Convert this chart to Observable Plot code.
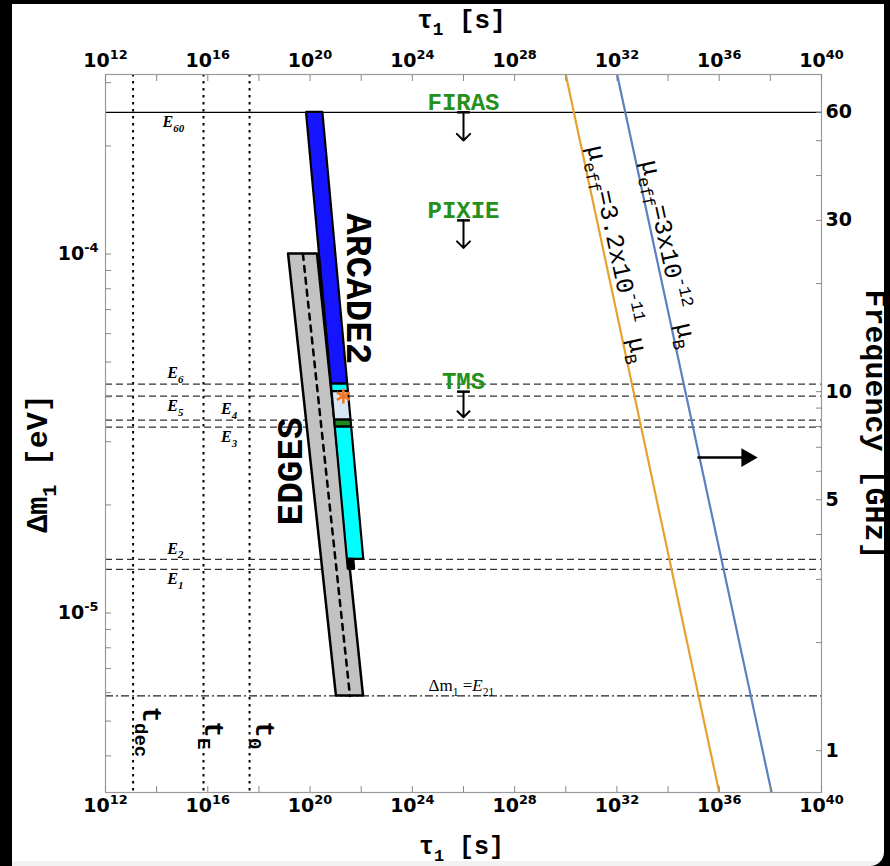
<!DOCTYPE html>
<html><head><meta charset="utf-8">
<script src="https://cdn.jsdelivr.net/npm/d3@7"></script>
<script src="https://cdn.jsdelivr.net/npm/@observablehq/plot@0.6"></script>
<style>
html,body{margin:0;padding:0;background:#000;width:890px;height:866px;overflow:hidden}
#page{position:absolute;left:12px;top:4px;width:872px;height:862px;background:linear-gradient(#fff 0,#fff 857px,#f1f1f1 857px);border-bottom-right-radius:14px}
#chart{position:absolute;left:0;top:0}
</style></head>
<body><div id="page"></div><div id="chart"></div>
<script>
// ---------- data ----------
const H_EV_PER_GHZ = 4.135667e-6;              // photon energy of 1 GHz, eV
const xMajorTicks = [1e12, 1e16, 1e20, 1e24, 1e28, 1e32, 1e36, 1e40];
const xMinorTicks = [1e14, 1e18, 1e22, 1e26, 1e30, 1e34, 1e38];
const yMajorTicks = [1e-5, 1e-4];
const yMinorTicks = [4e-6, 5e-6, 6e-6, 7e-6, 8e-6, 9e-6, 2e-5, 3e-5, 4e-5, 5e-5, 6e-5, 7e-5, 8e-5, 9e-5, 2e-4, 3e-4];
const freqMajorTicks = [1, 5, 10, 30, 60];
const freqMinorTicks = [2, 3, 4, 6, 7, 8, 9, 20, 40, 50];

// ARCADE2 frequency levels (GHz)
const levelNames = ["E_{60}", "E_{6}", "E_{5}", "E_{4}", "E_{3}", "E_{2}", "E_{1}"];
const levelGHz = [60, 10.49, 9.72, 8.33, 7.97, 3.41, 3.20];
const levelLabelTau = [1.7e14, 2.6e14, 2.6e14, 3.3e16, 3.3e16, 2.6e14, 2.6e14];
const line21GHz = 1.4204;
const line21Label = "Δm_{1} =*{E}_{21}";
const line21LabelTau = 4.3e24;

// epochs
const epochNames = ["t_{dec}", "t_{E}", "t_{0}"];
const epochTau = [1.2e13, 6.8e15, 4.3e17];
const epochLabelTau = [6.3e13, 1.8e16, 1.8e18];
const epochLabelDm = [5.5e-6, 5.0e-6, 5.0e-6];

// ARCADE2 band segments (top/bottom frequency, edge lifetimes in s)
const arcadeTopGHz    = [60, 10.49, 10.0, 8.33, 7.97, 3.41];
const arcadeBottomGHz = [10.49, 10.0, 8.33, 7.97, 3.41, 3.20];
const arcadeTauLeftTop     = [7.24e19, 6.81e20, 7.24e20, 9.16e20, 9.68e20, 2.88e21];
const arcadeTauRightTop    = [3.16e20, 2.97e21, 3.16e21, 4.00e21, 4.23e21, 5.13e21];
const arcadeTauLeftBottom  = [6.81e20, 7.24e20, 9.16e20, 9.68e20, 2.88e21, 3.13e21];
const arcadeTauRightBottom = [2.97e21, 3.16e21, 4.00e21, 4.23e21, 1.26e22, 5.56e21];
const arcadeStarTau = 2.0e21, arcadeStarGHz = 9.72;
const arcadeLabel = "ARCADE2", arcadeLabelTau = 7.8e21, arcadeLabelDm = 8.0e-5;

// EDGES band
const edgesDm = [1e-4, 5.874e-6];
const edgesTauLeft = [1.44e19, 1.07e21];
const edgesTauRight = [1.95e20, 1.23e22];
const edgesTauCenter = [5.25e19, 3.63e21];
const edgesLabel = "EDGES", edgesLabelTau = 1.72e19, edgesLabelDm = 2.48e-5;

// upper limits
const limitNames = ["FIRAS", "PIXIE", "TMS"];
const limitGHz = [60, 30, 10];
const limitTipDm = [2.07e-4, 1.04e-4, 3.51e-5];
const limitTau = [1e26, 1e26, 1e26];
const limitBarTauLeft = [5.6e25, 5.6e25, 5.6e25];
const limitBarTauRight = [1.78e26, 1.78e26, 1.78e26];

// effective magnetic moment lines
const muNames = ["μ_{eff}=3.2x10^{-11} μ_{B}", "μ_{eff}=3x10^{-12} μ_{B}"];
const muEndDm = [3.162e-4, 3.162e-6];
const muTauOrange = [1.0e30, 1.0e36];
const muTauBlue = [1.02e32, 1.12e38];
const muLabelTau = [1.1e32, 1.1e34];
const muLabelDm = [1.0e-4, 1.0e-4];

// right arrow
const arrowTau = [1.4e35, 1.2e37];
const arrowDm = 2.71e-5;

// ---------- build ----------
const dmOf = ghz => ghz * H_EV_PER_GHZ;
const levels = levelNames.map((n, i) => ({name: "*{E}" + n.slice(1), ghz: levelGHz[i], tau: levelLabelTau[i]}));
const above = new Set([1, 3, 5]);
const MONO = "Liberation Mono", SANS = "DejaVu Sans", SERIF = "Liberation Serif";
const GREEN = "#25901c";

const arcadeFills = ["#1414ff", "#00ffff", "#d9e6f5", "#1e8c1e", "#00ffff", "#000000"];
const arcadeMarks = arcadeTopGHz.map((t, i) => Plot.areaX([
  {dm: dmOf(t), x1: arcadeTauLeftTop[i], x2: arcadeTauRightTop[i]},
  {dm: dmOf(arcadeBottomGHz[i]), x1: arcadeTauLeftBottom[i], x2: arcadeTauRightBottom[i]}
], {y: "dm", x1: "x1", x2: "x2", fill: arcadeFills[i], stroke: "#000", strokeWidth: 2.2, strokeLinejoin: "miter"}));

const edgesRows = edgesDm.map((d, i) => ({dm: d, x1: edgesTauLeft[i], x2: edgesTauRight[i], xc: edgesTauCenter[i]}));
const muRows = (taus) => taus.map((t, i) => ({tau: t, dm: muEndDm[i]}));
const limits = limitNames.map((n, i) => ({name: n, dm: dmOf(limitGHz[i]), tip: limitTipDm[i], tau: limitTau[i], l: limitBarTauLeft[i], r: limitBarTauRight[i]}));
const epochs = epochNames.map((n, i) => ({name: n, tau: epochTau[i], lt: epochLabelTau[i], ld: epochLabelDm[i]}));
const pow10 = d => "10^{" + Math.round(Math.log10(d)) + "}";
const tickFont = {fontFamily: SANS, fontWeight: "bold", fontSize: 19};
const blank = () => "";
const titleFont = {fontFamily: MONO, fontWeight: "bold", textAnchor: "middle", lineAnchor: "middle"};

const plot = Plot.plot({
  width: 890, height: 866,
  marginLeft: 105, marginRight: 69, marginTop: 74, marginBottom: 74,
  style: {background: "transparent", fontFamily: SANS, overflow: "visible"},
  x: {type: "log", domain: [1e12, 1e40]},
  y: {type: "log", domain: [Math.pow(10, -5.5), Math.pow(10, -3.5)]},
  marks: [
    Plot.ruleX(epochs, {x: "tau", stroke: "#000", strokeWidth: 2, strokeDasharray: "2.5,4.5"}),
    Plot.ruleY(levels.slice(1), {y: d => dmOf(d.ghz), stroke: "#333", strokeWidth: 1.3, strokeDasharray: "7,4"}),
    Plot.ruleY(levels.slice(0, 1), {y: d => dmOf(d.ghz), stroke: "#000", strokeWidth: 1.3}),
    Plot.ruleY([line21GHz], {y: d => dmOf(d), stroke: "#222", strokeWidth: 1.3, strokeDasharray: "8,3,2,3"}),
    Plot.line(muRows(muTauOrange), {x: "tau", y: "dm", stroke: "#e8a130", strokeWidth: 2.2, clip: true}),
    Plot.line(muRows(muTauBlue), {x: "tau", y: "dm", stroke: "#5a80c0", strokeWidth: 2.2, clip: true}),
    Plot.areaX(edgesRows, {y: "dm", x1: "x1", x2: "x2", fill: "#c2c2c2", stroke: "#000", strokeWidth: 2.5}),
    Plot.line(edgesRows, {x: "xc", y: "dm", stroke: "#000", strokeWidth: 2.5, strokeDasharray: "6,6"}),
    ...arcadeMarks,
    Plot.dot([arcadeStarTau], {x: d => d, y: () => dmOf(arcadeStarGHz), symbol: "asterisk", r: 7, stroke: "#f07820", strokeWidth: 2.6}),
    Plot.arrow(limits, {x1: "tau", x2: "tau", y1: "dm", y2: "tip", stroke: "#000", strokeWidth: 2, headLength: 9, headAngle: 90}),
    Plot.link(limits, {x1: "l", x2: "r", y1: "dm", y2: "dm", stroke: "#000", strokeWidth: 2.5}),
    Plot.link([arrowTau], {x1: d => d[0], x2: d => d[1], y1: () => arrowDm, y2: () => arrowDm, stroke: "#000", strokeWidth: 2.5}),
    Plot.dot([arrowTau], {x: d => d[1], y: () => arrowDm, symbol: "triangle", rotate: 90, r: 7, fill: "#000", stroke: "none"}),
    // texts
    Plot.text(limits, {x: "tau", y: "dm", text: "name", dy: -10, fill: GREEN, fontFamily: MONO, fontWeight: "bold", fontSize: 24}),
    Plot.text(levels.filter((d, i) => above.has(i)), {x: "tau", y: d => dmOf(d.ghz), text: "name", dy: -11, textAnchor: "start", fontFamily: SERIF, fontStyle: "italic", fontWeight: "bold", fontSize: 16}),
    Plot.text(levels.filter((d, i) => !above.has(i)), {x: "tau", y: d => dmOf(d.ghz), text: "name", dy: 10, textAnchor: "start", fontFamily: SERIF, fontStyle: "italic", fontWeight: "bold", fontSize: 16}),
    Plot.text([line21Label], {x: () => line21LabelTau, y: () => dmOf(line21GHz), dy: -10, textAnchor: "start", fontFamily: SERIF, fontSize: 17}),
    Plot.text(epochs, {x: "lt", y: "ld", text: "name", rotate: 90, textAnchor: "start", fontFamily: MONO, fontWeight: "bold", fontSize: 28}),
    Plot.text([arcadeLabel], {x: () => arcadeLabelTau, y: () => arcadeLabelDm, rotate: 90, fontFamily: MONO, fontWeight: "bold", fontSize: 36}),
    Plot.text([edgesLabel], {x: () => edgesLabelTau, y: () => edgesLabelDm, rotate: -90, fontFamily: MONO, fontWeight: "bold", fontSize: 36}),
    Plot.text(muNames, {x: (d, i) => muLabelTau[i], y: (d, i) => muLabelDm[i], rotate: 78, fontFamily: MONO, fontSize: 25}),
    // axis titles
    Plot.text(["τ_{1} [s]"], {frameAnchor: "top", dx: -2, dy: -55, fontSize: 26, ...titleFont}),
    Plot.text(["τ_{1} [s]"], {frameAnchor: "bottom", dx: -2, dy: 53, fontSize: 25, ...titleFont}),
    Plot.text(["Δm_{1} [eV]"], {frameAnchor: "left", dx: -68, dy: 30, rotate: -90, fontSize: 30, ...titleFont}),
    Plot.text(["Frequency [GHz]"], {frameAnchor: "right", dx: 54, dy: -9, rotate: 90, fontSize: 30, ...titleFont}),
    Plot.frame({stroke: "#9a9a9a", strokeWidth: 1.2}),
    // axes with inward ticks
    Plot.axisX({anchor: "bottom", ticks: xMajorTicks, tickSize: -6, tickPadding: 12, tickFormat: pow10, label: null, stroke: "#888", ...tickFont}),
    Plot.axisX({anchor: "bottom", ticks: xMinorTicks, tickSize: -6, tickFormat: blank, label: null, stroke: "#888"}),
    Plot.axisX({anchor: "top", ticks: xMajorTicks, tickSize: -6, tickPadding: 14, tickFormat: pow10, label: null, stroke: "#888", ...tickFont}),
    Plot.axisX({anchor: "top", ticks: xMinorTicks, tickSize: -6, tickFormat: blank, label: null, stroke: "#888"}),
    Plot.axisY({anchor: "left", ticks: yMajorTicks, tickSize: -6, tickPadding: 13, tickFormat: pow10, label: null, stroke: "#888", ...tickFont}),
    Plot.axisY({anchor: "left", ticks: yMinorTicks, tickSize: -6, tickFormat: blank, label: null, stroke: "#888"}),
    Plot.axisY({anchor: "right", ticks: freqMajorTicks.map(dmOf), tickSize: -6, tickPadding: 10, tickFormat: d => String(Math.round(d / H_EV_PER_GHZ)), label: null, stroke: "#888", ...tickFont}),
    Plot.axisY({anchor: "right", ticks: freqMinorTicks.map(dmOf), tickSize: -6, tickFormat: blank, label: null, stroke: "#888"})
  ]
});
document.getElementById("chart").appendChild(plot);

// rich text: _{sub} ^{sup} *{italic}
d3.select(plot).selectAll("text").each(function () {
  const s = this.textContent;
  if (!/[_^*]\{/.test(s)) return;
  const fs = parseFloat(getComputedStyle(this).fontSize) || 12;
  const parts = [], re = /([_^*])\{([^}]*)\}/g;
  let last = 0, m;
  while ((m = re.exec(s))) {
    if (m.index > last) parts.push({t: s.slice(last, m.index), k: ""});
    parts.push({t: m[2], k: m[1]});
    last = re.lastIndex;
  }
  if (last < s.length) parts.push({t: s.slice(last), k: ""});
  while (this.firstChild) this.removeChild(this.firstChild);
  let cur = 0;
  parts.forEach((p) => {
    const ts = document.createElementNS("http://www.w3.org/2000/svg", "tspan");
    const target = p.k === "_" ? 0.28 * fs : p.k === "^" ? -0.42 * fs : 0;
    if (target !== cur) ts.setAttribute("dy", (target - cur).toFixed(2));
    cur = target;
    if (p.k === "_" || p.k === "^") ts.setAttribute("font-size", (0.68 * fs).toFixed(1));
    if (p.k === "*") ts.setAttribute("font-style", "italic");
    ts.textContent = p.t;
    this.appendChild(ts);
  });
});
</script></body></html>
